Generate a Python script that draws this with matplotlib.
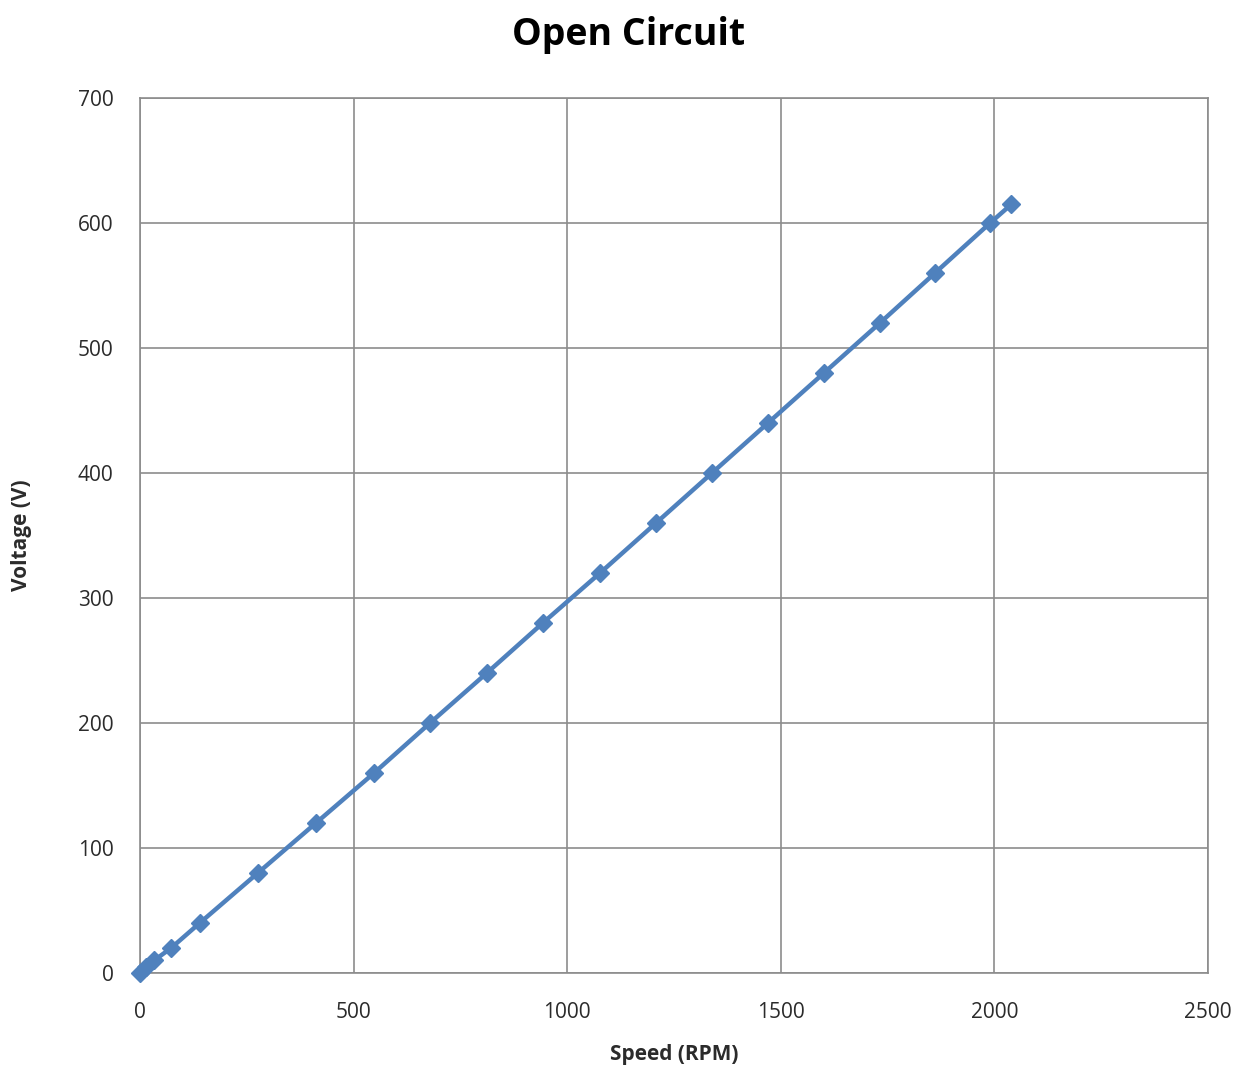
import matplotlib
matplotlib.use("Agg")
import matplotlib.pyplot as plt

# speed (RPM) vs open circuit voltage (V)
speed = [0, 15, 33, 73, 140, 276, 412, 548, 679, 812, 943, 1077, 1208, 1339,
         1470, 1601, 1732, 1861, 1990, 2040]
voltage = [0, 5, 10, 20, 40, 80, 120, 160, 200, 240, 280, 320, 360, 400,
           440, 480, 520, 560, 600, 615]

plt.rcParams['font.family'] = ['Open Sans', 'DejaVu Sans']

fig = plt.figure(figsize=(12.45, 10.73), dpi=100)
ax = fig.add_axes([0.1124, 0.0932, 0.8579, 0.8155])

ax.plot(speed, voltage, color='#4F81BD', lw=3.2, marker='D', markersize=9,
        markeredgecolor='#4F81BD', zorder=3, clip_on=False)

ax.set_xlim(0, 2500)
ax.set_ylim(0, 700)
ax.set_xticks(range(0, 2501, 500))
ax.set_yticks(range(0, 701, 100))
ax.grid(True, color='#8c8c8c', lw=1.2)
for s in ax.spines.values():
    s.set_color('#8c8c8c')
    s.set_linewidth(1.2)
ax.tick_params(length=0, labelsize=15, colors='#2b2b2b')
ax.tick_params(axis='x', pad=21)
ax.tick_params(axis='y', pad=19)

ax.set_xlabel('Speed (RPM)', fontsize=15, fontweight='bold', color='#2b2b2b')
ax.set_ylabel('Voltage (V)', fontsize=15, fontweight='bold', color='#2b2b2b')
ax.xaxis.set_label_coords(0.5, -0.081)
ax.yaxis.set_label_coords(-0.101, 0.5)
fig.suptitle('Open Circuit', fontsize=27, fontweight='bold', x=0.505, y=0.985)

fig.savefig('out.png', dpi=100, facecolor='white')
